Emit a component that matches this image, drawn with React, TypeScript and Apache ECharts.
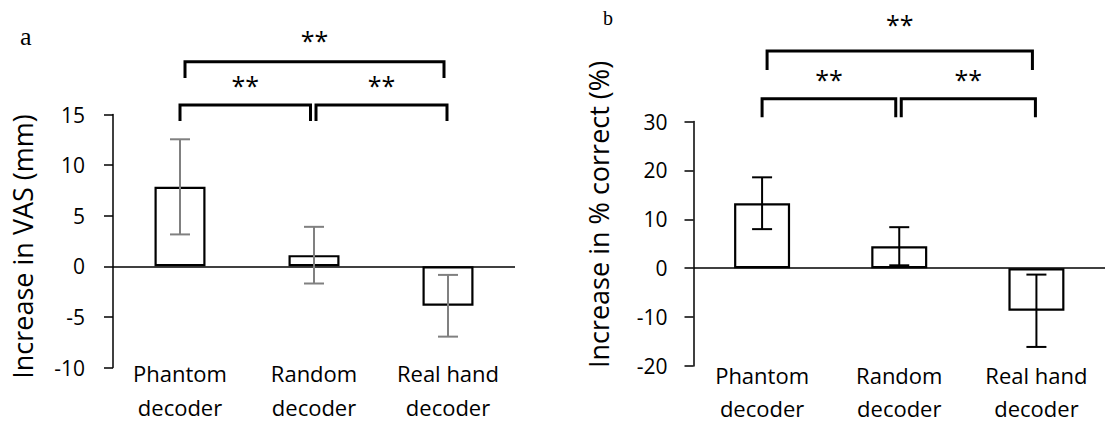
import React, { useEffect, useRef } from "react";
import * as echarts from "echarts";

const categories = ["Phantom\ndecoder", "Random\ndecoder", "Real hand\ndecoder"];
const vasMeans = [7.85, 1.1, -3.9];
const vasErrors = [4.7, 2.8, 3.05];
const correctMeans = [13.3, 4.5, -8.7];
const correctErrors = [5.3, 3.9, 7.4];
const vasAxis = { min: -10, max: 15, interval: 5 };
const correctAxis = { min: -20, max: 30, interval: 10 };
const vasTitle = "Increase in VAS (mm)";
const correctTitle = "Increase in % correct (%)";
const panelLabels = ["a", "b"];
// comparisons: [from category, to category, label]
const comparisons: [number, number, string][] = [
  [0, 2, "**"],
  [0, 1, "**"],
  [1, 2, "**"],
];

const FONT = "'Open Sans', 'Noto Sans', sans-serif";

function errorSeries(gridIdx: number, means: number[], errs: number[], color: string) {
  return {
    type: "custom",
    xAxisIndex: gridIdx,
    yAxisIndex: gridIdx,
    z: 5,
    silent: true,
    data: means.map((m, i) => [i, m, errs[i]]),
    encode: { x: 0, y: 1 },
    renderItem: (params: any, api: any) => {
      const x = api.value(0);
      const m = api.value(1);
      const e = api.value(2);
      const top = api.coord([x, m + e]);
      const bot = api.coord([x, m - e]);
      const half = 10;
      const style = { stroke: color, lineWidth: 2 };
      return {
        type: "group",
        children: [
          { type: "line", shape: { x1: top[0], y1: top[1], x2: bot[0], y2: bot[1] }, style },
          { type: "line", shape: { x1: top[0] - half, y1: top[1], x2: top[0] + half, y2: top[1] }, style },
          { type: "line", shape: { x1: bot[0] - half, y1: bot[1], x2: bot[0] + half, y2: bot[1] }, style },
        ],
      };
    },
  };
}

function barSeries(gridIdx: number, means: number[], width: number) {
  return {
    type: "bar",
    xAxisIndex: gridIdx,
    yAxisIndex: gridIdx,
    data: means,
    barWidth: width,
    silent: true,
    itemStyle: { color: "#fff", borderColor: "#000", borderWidth: 2.2 },
    markLine: {
      silent: true,
      symbol: "none",
      label: { show: false },
      lineStyle: { color: "#000", width: 1.5, type: "solid" },
      data: [{ yAxis: 0 }],
    },
  };
}

function yAxis(gridIdx: number, ax: any, margin: number) {
  return {
    type: "value",
    gridIndex: gridIdx,
    min: ax.min,
    max: ax.max,
    interval: ax.interval,
    axisLine: { show: true, lineStyle: { color: "#000", width: 1.5 } },
    axisTick: { show: true, length: 9, lineStyle: { color: "#000", width: 1.5 } },
    axisLabel: { fontSize: 21, color: "#000", fontFamily: FONT, margin },
    splitLine: { show: false },
  };
}

function xAxis(gridIdx: number, margin: number, lh: number) {
  return {
    type: "category",
    gridIndex: gridIdx,
    data: categories,
    axisLine: { show: false },
    axisTick: { show: false },
    axisLabel: {
      fontSize: 22,
      lineHeight: lh,
      color: "#000",
      fontFamily: FONT,
      margin,
      interval: 0,
    },
  };
}

export default function App() {
  const ref = useRef<HTMLDivElement>(null);
  useEffect(() => {
    if (!ref.current) return;
    const chart = echarts.init(ref.current, undefined, { renderer: "svg" });
    chart.setOption({
      animation: false,
      grid: [
        { left: 113, top: 114.5, width: 402, height: 260.3 },
        { left: 693.5, top: 121.6, width: 420, height: 244.5 },
      ],
      xAxis: [xAxis(0, -11.5, 34), xAxis(1, -8, 33)],
      yAxis: [yAxis(0, vasAxis, 28), yAxis(1, correctAxis, 26)],
      series: [
        barSeries(0, vasMeans, 51),
        errorSeries(0, vasMeans, vasErrors, "#808080"),
        barSeries(1, correctMeans, 56),
        errorSeries(1, correctMeans, correctErrors, "#000"),
      ],
    });

    // bracket annotations
    const cx = (g: number, i: number) =>
      (chart.convertToPixel({ gridIndex: g } as any, [i, 0]) as number[])[0];
    const levels = [
      { top: { y: 61.7, leg: 78, star: 38 }, low: { y: 105, leg: 121, star: 83 } },
      { top: { y: 51, leg: 70, star: 22.7 }, low: { y: 98.7, leg: 117.3, star: 77 } },
    ];
    const graphics: any[] = [];
    [0, 1].forEach((g) => {
      comparisons.forEach(([a, b, label]) => {
        const span = b - a;
        const lv = span > 1 ? levels[g].top : levels[g].low;
        let x1 = cx(g, a);
        let x2 = cx(g, b);
        if (span > 1) {
          x1 += 5;
          x2 -= 4;
        } else if (a === 0) {
          x2 -= 3.5;
        } else {
          x1 += 2;
          x2 -= 1;
        }
        graphics.push({
          type: "polyline",
          shape: { points: [[x1, lv.leg], [x1, lv.y], [x2, lv.y], [x2, lv.leg]] },
          style: { stroke: "#000", lineWidth: 3, fill: null, lineJoin: "miter", lineCap: "butt" },
          silent: true,
        });
        graphics.push({
          type: "text",
          x: (x1 + x2) / 2,
          y: lv.star + 1.5,
          style: {
            text: label,
            fontSize: 25,
            fontFamily: FONT,
            fill: "#000",
            align: "center",
            verticalAlign: "middle",
          },
          silent: true,
        });
      });
    });
    // axis titles
    graphics.push({
      type: "text",
      x: 22,
      y: 246.5,
      rotation: Math.PI / 2,
      style: { text: vasTitle, fontSize: 27, fontFamily: FONT, fill: "#000", align: "center", verticalAlign: "middle" },
      silent: true,
    });
    graphics.push({
      type: "text",
      x: 598,
      y: 214.5,
      rotation: Math.PI / 2,
      style: { text: correctTitle, fontSize: 27, fontFamily: FONT, fill: "#000", align: "center", verticalAlign: "middle" },
      silent: true,
    });
    // panel labels
    graphics.push({
      type: "text",
      x: 25.7,
      y: 36,
      style: { text: panelLabels[0], fontSize: 26, fontFamily: "'Liberation Serif', serif", fill: "#000", align: "center", verticalAlign: "middle" },
      silent: true,
    });
    graphics.push({
      type: "text",
      x: 608,
      y: 18,
      style: { text: panelLabels[1], fontSize: 20, fontFamily: "'Liberation Serif', serif", fill: "#000", align: "center", verticalAlign: "middle" },
      silent: true,
    });
    chart.setOption({ graphic: graphics });
    return () => chart.dispose();
  }, []);
  return (
    <div
      ref={ref}
      style={{ position: "absolute", left: 0, top: 0, width: 1105, height: 424, background: "#fff" }}
    />
  );
}
